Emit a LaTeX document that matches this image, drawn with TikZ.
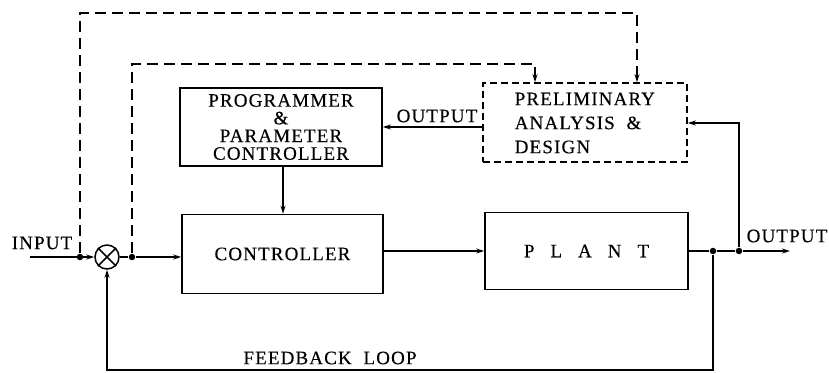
\documentclass[tikz,border=0pt]{standalone}
\usepackage{fontspec}
\setmainfont{Liberation Serif}[LetterSpace=6, FakeBold=0.3]
\usetikzlibrary{arrows.meta}
\begin{document}
\begin{tikzpicture}[x=1pt,y=-1pt,
  line width=1.5pt,
  >={Stealth[length=8pt,width=5pt]},
  every node/.style={font=\fontsize{19}{19}\selectfont},
  blockbox/.style={draw, inner sep=0pt, align=center},
  planbox/.style={draw, dashed, dash pattern=on 7pt off 4pt, inner sep=0pt},
  longdash/.style={dashed, dash pattern=on 11pt off 6pt},
  dot/.style={circle, fill, inner sep=0pt, minimum size=6.5pt},
  lbl/.style={inner sep=0pt}]
\useasboundingbox (0,0) rectangle (829,372);

% blocks
\node[blockbox, minimum width=202pt, minimum height=78pt,
      font=\fontsize{19}{17.7}\selectfont] (prog) at (281,127)
  {PROGRAMMER\\\&\\PARAMETER\\CONTROLLER};
\node[blockbox, minimum width=201pt, minimum height=79pt] (ctrl) at (282.5,254) {CONTROLLER};
\node[blockbox, minimum width=203pt, minimum height=77pt] (plant) at (586.5,251)
  {P\hskip16pt L\hskip16pt A\hskip16pt N\hskip16pt T};
\node[planbox, minimum width=204pt, minimum height=79pt] (pa) at (585,122.5) {};
\node[lbl, anchor=west, align=left, font=\fontsize{19}{24}\selectfont] (patext) at (514,123)
  {PRELIMINARY\\ANALYSIS \ \&\\DESIGN};

% summing junction
\node[draw, circle, minimum size=24pt, inner sep=0pt] (sum) at (107,257) {};
\draw (sum.north west) -- (sum.south east) (sum.north east) -- (sum.south west);

% branch points
\coordinate (in) at (30,257);
\node[dot] (j1) at (80,257) {};
\node[dot] (j2) at (132,257) {};
\node[dot] (j3) at (713,251) {};
\node[dot] (j4) at (739,251) {};
\coordinate (out) at (790,251);

% main signal path
\draw[->] (in) -- (sum.west);
\draw (sum.east) -- (j2);
\draw[->] (j2) -- (ctrl.west |- j2);
\draw[->] (ctrl.east |- plant.west) -- (plant.west);
\draw (plant.east |- j3) -- (j3) -- (j4);
\draw[->] (j4) -- (out);
\draw[->] (prog.south -| 283,0) -- (ctrl.north -| 283,0);

% feedback loop
\draw[->] (j3) -- (713,370) -- (107,370) -- (sum.south);

% output to preliminary analysis
\draw[->] (j4) -- (739,123) -- (pa.east |- 0,123);
\draw[->] (pa.west |- 0,127) -- (prog.east |- 0,127);

% dashed information paths
\draw[longdash, ->] (j1) -- (80,13) -- (637,13) -- (pa.north -| 637,0);
\draw[longdash, ->] (j2) -- (132,64) -- (535,64) -- (pa.north -| 535,0);

% labels
\node[lbl] (lin) at (42,243) {INPUT};
\node[lbl] (lout) at (787,236) {OUTPUT};
\node[lbl] (lpo) at (437,116) {OUTPUT};
\node[lbl] (lfb) at (330,358) {FEEDBACK \ LOOP};
\end{tikzpicture}
\end{document}
